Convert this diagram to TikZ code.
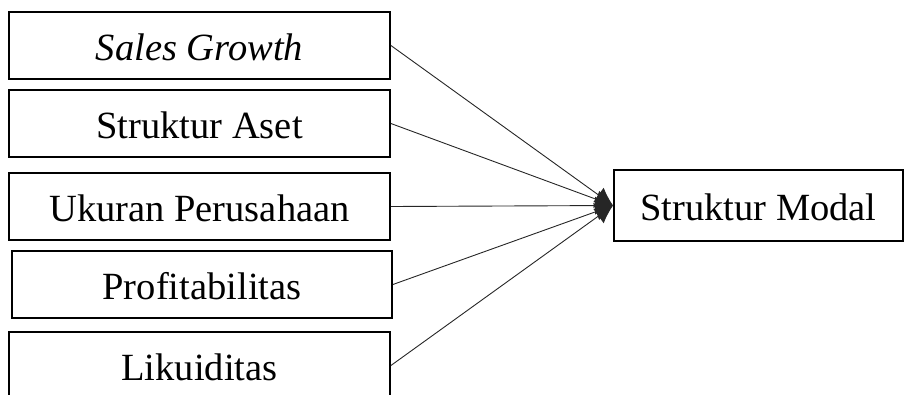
\documentclass[tikz,border=0pt]{standalone}
\usepackage{fontspec}
\setmainfont{Liberation Serif}
\usetikzlibrary{arrows.meta}
\begin{document}
\begin{tikzpicture}[x=1pt,y=-1pt,
  box/.style={draw, line width=1.8pt, rectangle, inner sep=0pt,
    minimum width=381pt, minimum height=67pt,
    font=\fontsize{38.5}{46}\selectfont, text height=30pt, text depth=0pt},
  conn/.style={line width=0.9pt, draw=black!85, -{Latex[length=18pt,width=18pt]}}]
\clip (0,0) rectangle (904,394);
\node[box] (sg) at (199.5,45.5) {\itshape Sales Growth};
\node[box] (sa) at (199.5,123.5) {Struktur Aset};
\node[box] (up) at (199.5,206.5) {Ukuran Perusahaan};
\node[box, minimum width=380pt] (pr) at (202,284.5) {Profitabilitas};
\node[box] (lk) at (199.5,365.5) {Likuiditas};
\node[box, minimum width=289pt, minimum height=71pt] (sm) at (758.5,205.5) {Struktur Modal};
\draw[conn] (sg.east) -- (sm.west);
\draw[conn] (sa.east) -- (sm.west);
\draw[conn] (up.east) -- (sm.west);
\draw[conn] (pr.east) -- (sm.west);
\draw[conn] (lk.east) -- (sm.west);
\end{tikzpicture}
\end{document}
